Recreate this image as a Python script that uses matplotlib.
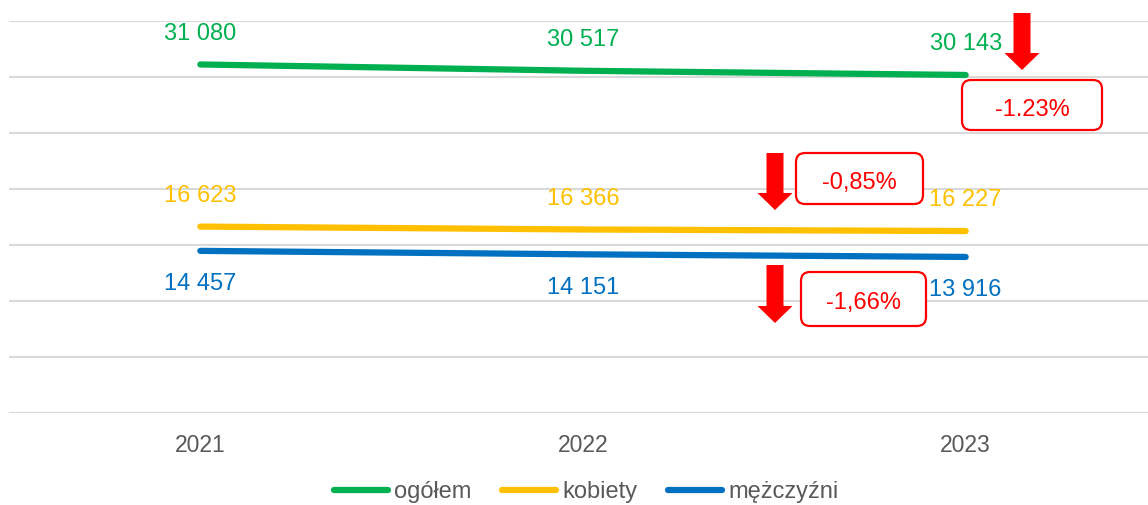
import matplotlib
matplotlib.use("Agg")
import matplotlib.pyplot as plt
from matplotlib.patches import Polygon, FancyBboxPatch
from matplotlib.transforms import Affine2D, IdentityTransform
from matplotlib.lines import Line2D

plt.rcParams['font.family'] = ['Liberation Sans', 'DejaVu Sans']

years = ["2021", "2022", "2023"]
ogolem = [31080, 30517, 30143]
kobiety = [16623, 16366, 16227]
mezczyzni = [14457, 14151, 13916]
series_names = ["ogółem", "kobiety", "mężczyźni"]
colors = ["#00B050", "#FFC000", "#0070C0"]
changes = ["-1.23%", "-0,85%", "-1,66%"]

W, H = 1148, 505
fig = plt.figure(figsize=(W / 100, H / 100), dpi=100)
ax_left, ax_right, ax_top, ax_bot = 9, 1157, 20.5, 413
ax = fig.add_axes([ax_left / W, 1 - ax_bot / H, (ax_right - ax_left) / W, (ax_bot - ax_top) / H])

x = list(range(len(years)))
label_offsets = [22, 22, -24]
for vals, name, c, off in zip([ogolem, kobiety, mezczyzni], series_names, colors, label_offsets):
    ax.plot(x, vals, color=c, lw=4.5, solid_capstyle='round', label=name)
    for xi, v in zip(x, vals):
        ax.annotate(f"{v:,}".replace(",", " "), (xi, v), xytext=(0, off), textcoords='offset points',
                    ha='center', va='center', fontsize=17, color=c)

ax.set_xlim(-0.5, 2.5)
ax.set_ylim(0, 35000)
ax.set_yticks(range(0, 35001, 5000))
ax.set_yticklabels([])
ax.tick_params(axis='y', length=0)
ax.tick_params(axis='x', length=0, labelsize=16.5, labelcolor='#595959', pad=15)
ax.set_xticks(x)
ax.set_xticklabels(years)
ax.grid(axis='y', color='#D9D9D9', lw=1.5)
ax.set_axisbelow(True)
for s in ax.spines.values():
    s.set_visible(False)

# pixel transform (origin top-left)
pix = Affine2D().scale(1, -1).translate(0, H)

def arrow(cx, y0, y1, y2):
    pts = [(cx - 8.5, y0), (cx + 8.5, y0), (cx + 8.5, y1), (cx + 17.5, y1), (cx, y2),
           (cx - 17.5, y1), (cx - 8.5, y1)]
    fig.patches.append(Polygon(pts, closed=True, facecolor='#FF0000', edgecolor='none',
                               transform=pix, figure=fig))

def box(x0, y0, x1, y1, ty, text):
    p = FancyBboxPatch((x0, H - y1), x1 - x0, y1 - y0, boxstyle="round,pad=0,rounding_size=9",
                       facecolor='white', edgecolor='#FF0000', lw=1.6,
                       transform=IdentityTransform(), figure=fig)
    fig.patches.append(p)
    fig.text((x0 + x1) / 2 / W, 1 - ty / H, text, ha='center', va='center',
             fontsize=17, color='#FF0000')

arrow(1022, 13, 53, 70)
box(962, 80, 1102, 130, 110.5, changes[0])
arrow(775, 153, 193, 210)
box(796, 153, 923, 204, 183.5, changes[1])
arrow(775, 265, 306, 323)
box(801, 272, 926, 326, 303, changes[2])

handles = [Line2D([], [], color=c, lw=4.5, solid_capstyle='round') for c in colors]
leg = fig.legend(handles, series_names, loc='center', bbox_to_anchor=(586 / W, 1 - 492 / H),
                 ncol=3, frameon=False, fontsize=17, handlelength=2.3, handletextpad=0.25,
                 columnspacing=1.3, borderpad=0)
for t in leg.get_texts():
    t.set_color('#595959')

fig.savefig("out.png", dpi=100)
